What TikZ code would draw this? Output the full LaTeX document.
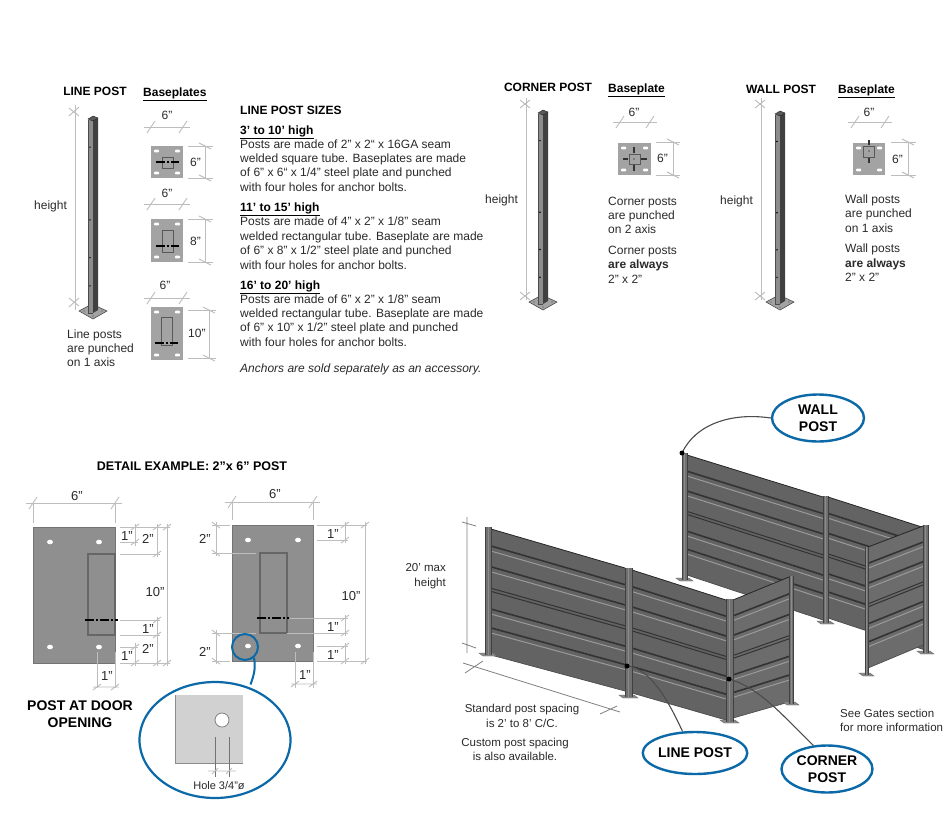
\documentclass[tikz,border=0pt]{standalone}
\usepackage{fontspec}
\setmainfont{Liberation Sans}
\usetikzlibrary{calc,shapes.geometric}
\definecolor{txtc}{HTML}{2A2A2A}
\definecolor{dimc}{HTML}{BDBDBD}
\definecolor{bubc}{HTML}{0B69A8}
\definecolor{platec}{HTML}{A3A3A3}
\definecolor{detailc}{HTML}{8F8F8F}
\definecolor{panelc}{HTML}{636363}
\definecolor{sidec}{HTML}{6C6C6C}
\definecolor{bandd}{HTML}{333333}
\definecolor{bandl}{HTML}{9A9A9A}
\definecolor{postc}{HTML}{707070}
\definecolor{footc}{HTML}{8A8A8A}
\newcounter{tc}
\newcommand{\lb}[3][]{\stepcounter{tc}\node[lbl,#1] (t\arabic{tc}) at (#2) {#3};}
\newcommand{\lc}[3][]{\stepcounter{tc}\node[lbl,anchor=base,#1] (t\arabic{tc}) at (#2) {#3};}
\newcommand{\lr}[3][]{\stepcounter{tc}\node[lbl,anchor=base east,#1] (t\arabic{tc}) at (#2) {#3};}
% tick marks
\newcommand{\hd}[3]{\draw[dimln] (#1-7,#3)--(#2+7,#3);
  \draw[dimln] (#1-4,#3+6)--(#1+4,#3-6) (#2-4,#3+6)--(#2+4,#3-6);}
\newcommand{\vd}[3]{\draw[dimln] (#1,#2)--(#1,#3);
  \draw[dimln] (#1-6,#2-3)--(#1+6,#2+3) (#1-6,#3-3)--(#1+6,#3+3);}
% baseplate with slots
\newcommand{\bplate}[4]{\fill[platec] (#1,#2) rectangle (#3,#4);
  \foreach \sx/\sy in {#1+5.5/#2+5,#3-5.5/#2+5,#1+5.5/#4-5,#3-5.5/#4-5}
    {\fill[white,rounded corners=.8pt] (\sx-2.5,\sy-1.3) rectangle (\sx+2.5,\sy+1.3);}}
% isometric post
\newcommand{\isopost}[3]{%
  \fill[platec,draw=black!70,line width=.6pt] (#1-14,#3-1)--(#1-1,#3-8)--(#1+14,#3-1)--(#1,#3+7)--cycle;
  \foreach \hx/\hy in {-9/-1,9/-1,0/-5,0/4}{\fill[black!70] (#1+\hx,#3+\hy) circle (.7);}
  \fill[black!45] (#1-5,#2+2) rectangle (#1,#3+1);
  \fill[black!75] (#1,#2+2) -- (#1+5,#2) -- (#1+5,#3-2) -- (#1,#3+1) -- cycle;
  \draw[black!70,line width=.5pt] (#1-5,#2+2)--(#1-5,#3+1)--(#1,#3+1);
  \fill[black!65,draw=black!85,line width=.4pt] (#1-5,#2+1)--(#1,#2-2)--(#1+5,#2)--(#1,#2+3)--cycle;
  \foreach \f in {.15,.525,.72,.865}{\fill[black] ($(#1-3,#2)!\f!(#1-3,#3)$) circle (.8);}}
% fence panel: corners TL TR BL BR
\newcommand{\panel}[9]{\coordinate (pa) at (#2,#3);\coordinate (pb) at (#4,#5);
  \coordinate (pc) at (#6,#7);\coordinate (pd) at (#8,#9);
  \fill[#1] (pa)--(pb)--(pd)--(pc)--cycle;
  \foreach \t in {.135,.30,.635,.785}{
    \pgfmathsetmacro{\tl}{\t+.04}
    \draw[bandd,line width=1.6pt] ($(pa)!\t!(pc)$)--($(pb)!\t!(pd)$);
    \draw[bandl,line width=1pt] ($(pa)!\tl!(pc)$)--($(pb)!\tl!(pd)$);}
  \draw[bandd,line width=1pt] ($(pa)!.47!(pc)$)--($(pb)!.47!(pd)$);
  \draw[bandd,line width=1pt] ($(pa)!.495!(pc)$)--($(pb)!.495!(pd)$);
  \draw[black!85,line width=.8pt] (pa)--(pb);\draw[black!70,line width=.7pt] (pc)--(pd);}
\newcommand{\fpost}[4]{\fill[footc,draw=black!60,line width=.4pt] (#1-6,#4-2)--(#2+2,#4-2)--(#2+6,#4+1)--(#1-2,#4+1)--cycle;
  \fill[postc] (#1,#3) rectangle (#2,#4);
  \draw[black!75,line width=.6pt] (#1,#3)--(#1,#4) (#2,#3)--(#2,#4);
  \draw[black!45,line width=.5pt] ({(#1+#2)/2},#3)--({(#1+#2)/2},#4);}
\tikzset{
  lbl/.style={inner sep=0pt,anchor=base west,text=txtc,font=\fontsize{12}{14}\selectfont},
  hdr/.style={font=\fontsize{12}{14}\selectfont\bfseries,text=black},
  dimln/.style={dimc,line width=.9pt},
  bubble/.style={ellipse,draw=bubc,line width=2.4pt,fill=white,inner sep=0pt,align=center,text=black,font=\fontsize{14}{17}\selectfont\bfseries},
  lead/.style={black!70,line width=1.1pt},
  holeln/.style={black!55,line width=.9pt},
  insetln/.style={black!65,line width=.9pt},
  dashl/.style={black,line width=1.1pt,dash pattern=on 9pt off 2pt on 2pt off 2pt}
}
\begin{document}
\begin{tikzpicture}[x=1pt,y=-1pt]
\useasboundingbox (0,0) rectangle (950,833);
\fill[white] (0,0) rectangle (950,833);
% ---- LINE POST
\lc[hdr]{95,95}{LINE POST}
\lb[hdr]{143,96}{\underline{Baseplates}}
\isopost{93}{118}{312}
\draw[dimln] (75,105)--(75,310);
\draw[dimln] (69,108)--(79,116) (69,116)--(79,107) (69,298)--(79,306) (69,307)--(79,298);
\lb{34,209}{height}
\lb{67,338}{Line posts}\lb{67,352}{are punched}\lb{67,366}{on 1 axis}
% baseplate 1
\hd{151}{183}{127}\lc{167,119}{6"}
\bplate{151}{146}{183}{178}
\draw[insetln] (162,157) rectangle (173,168);
\draw[dashl] (156,162)--(179,162);
\draw[dimln] (188,146)--(213,146) (188,178)--(213,178);
\vd{205}{146}{178}\lb{190,166}{6"}
% baseplate 2
\hd{151}{183}{204}\lc{167,197}{6"}
\bplate{151}{219}{183}{262}
\draw[insetln] (162,230) rectangle (173,252);
\draw[dashl] (156,246)--(179,246);
\draw[dimln] (188,219)--(213,219) (188,262)--(213,262);
\vd{205}{219}{262}\lb{190,245}{8"}
% baseplate 3
\hd{151}{183}{298}\lc{165,289}{6"}
\bplate{151}{307}{183}{360}
\draw[insetln] (161,317) rectangle (172,345);
\draw[dashl] (155,343)--(178,343);
\draw[dimln] (188,310)--(216,310) (188,358)--(216,358);
\vd{209}{310}{358}\lb{188,337}{10"}
% sizes text
\lb[hdr]{240,114}{LINE POST SIZES}
\lb[hdr]{240,134}{\underline{3’ to 10’ high}}
\lb{240,148}{Posts are made of 2” x 2“ x 16GA seam}
\lb{240,162}{welded square tube. Baseplates are made}
\lb{240,176}{of 6” x 6“ x 1/4” steel plate and punched}
\lb{240,191}{with four holes for anchor bolts.}
\lb[hdr]{240,211}{\underline{11’ to 15’ high}}
\lb{240,225}{Posts are made of 4” x 2” x 1/8” seam}
\lb{240,240}{welded rectangular tube. Baseplate are made}
\lb{240,254}{of 6” x 8” x 1/2” steel plate and punched}
\lb{240,269}{with four holes for anchor bolts.}
\lb[hdr]{240,289}{\underline{16’ to 20’ high}}
\lb{240,303}{Posts are made of 6” x 2” x 1/8” seam}
\lb{240,317}{welded rectangular tube. Baseplate are made}
\lb{240,331}{of 6” x 10” x 1/2” steel plate and punched}
\lb{240,346}{with four holes for anchor bolts.}
\lb[font=\fontsize{12}{14}\selectfont\itshape]{240,372}{Anchors are sold separately as an accessory.}
% ---- CORNER POST
\lc[hdr]{548,91}{CORNER POST}
\lb[hdr]{608,92}{\underline{Baseplate}}
\isopost{543}{112}{303}
\draw[dimln] (526,98)--(526,300);
\draw[dimln] (520,100)--(530,108) (520,108)--(530,100) (520,292)--(530,300) (520,300)--(530,292);
\lb{485,203}{height}
\hd{620}{650}{122}\lc{634,116}{6"}
\bplate{618}{143}{651}{175}
\draw[insetln] (629,154) rectangle (640,164);
\draw[bandd,line width=1.3pt] (623,159)--(628,159) (641,159)--(647,159) (634,147)--(634,153) (634,165)--(634,171);
\fill[black] (634,159) circle (.7);
\draw[dimln] (656,142)--(680,142) (656,175)--(680,175);
\vd{673}{142}{175}\lb{657,162}{6"}
\lb{608,205}{Corner posts}\lb{608,219}{are punched}\lb{608,233}{on 2 axis}
\lb{608,254}{Corner posts}\lb[font=\fontsize{12}{14}\selectfont\bfseries]{608,268}{are always}\lb{608,283}{2” x 2”}
% ---- WALL POST
\lc[hdr]{781,93}{WALL POST}
\lb[hdr]{838,93}{\underline{Baseplate}}
\isopost{780}{113}{303}
\draw[dimln] (761,98)--(761,300);
\draw[dimln] (755,100)--(765,108) (755,108)--(765,100) (755,292)--(765,300) (755,300)--(765,292);
\lb{720,204}{height}
\hd{855}{885}{122}\lc{869,116}{6"}
\bplate{853}{143}{885}{175}
\draw[insetln] (863,146) rectangle (874,157);
\draw[bandd,line width=1.3pt] (869,140)--(869,145) (869,158)--(869,163);
\fill[black] (869,151) circle (.7);
\draw[dimln] (891,142)--(916,142) (891,175)--(916,175);
\vd{908}{142}{175}\lb{892,163}{6"}
\lb{845,203}{Wall posts}\lb{845,217}{are punched}\lb{845,232}{on 1 axis}
\lb{845,252}{Wall posts}\lb[font=\fontsize{12}{14}\selectfont\bfseries]{845,267}{are always}\lb{845,281}{2” x 2”}
% ---- DETAIL
\lc[font=\fontsize{12.5}{15}\selectfont\bfseries,text=black]{192,470}{DETAIL EXAMPLE: 2”x 6” POST}
% plate A
\fill[detailc] (33,527) rectangle (115,663);
\draw[black!55,line width=.8pt] (33,527) rectangle (115,663);
\foreach \hx/\hy in {50/542,99/542,50/647,99/647}{\fill[white] (\hx,\hy) ellipse (3 and 2.3);}
\draw[black!60,line width=1.1pt] (88,554) rectangle (115,635);
\draw[dashl] (85,620)--(118,620);
\hd{33}{115}{503}\draw[dimln] (33,503)--(33,523) (115,503)--(115,523);
\lc[font=\fontsize{13}{15}\selectfont]{77,500}{6"}
\draw[dimln] (120,527)--(170,527) (120,542)--(138,542) (120,554)--(160,554) (120,620)--(160,620) (120,635)--(160,635) (120,647)--(138,647) (120,663)--(170,663);
\draw[dimln] (135,524)--(135,546) (135,643)--(135,666) (157,524)--(157,557) (157,617)--(157,666) (167,524)--(167,666);
\foreach \ty in {527,542,647,663}{\draw[dimln] (131,\ty+3)--(139,\ty-3);}
\foreach \ty in {527,554,620,635,663}{\draw[dimln] (153,\ty+3)--(161,\ty-3);}
\foreach \ty in {527,663}{\draw[dimln] (163,\ty+3)--(171,\ty-3);}
\lc[font=\fontsize{13}{15}\selectfont]{127,540}{1"}\lc[font=\fontsize{13}{15}\selectfont]{148,543}{2"}
\lc[font=\fontsize{13}{15}\selectfont]{155,596}{10"}\lc[font=\fontsize{13}{15}\selectfont]{148,633}{1"}
\lc[font=\fontsize{13}{15}\selectfont]{148,653}{2"}\lc[font=\fontsize{13}{15}\selectfont]{127,660}{1"}
\draw[dimln] (97,652)--(97,688) (115,652)--(115,688);
\draw[dimln] (93,687)--(119,687) (93,690)--(101,684) (111,690)--(119,684);
\lc[font=\fontsize{13}{15}\selectfont]{107,680}{1"}
% plate B
\fill[detailc] (232,525) rectangle (313,661);
\draw[black!55,line width=.8pt] (232,525) rectangle (313,661);
\foreach \hx/\hy in {248/540,298/540,248/646,298/646}{\fill[white] (\hx,\hy) ellipse (3 and 2.3);}
\draw[black!60,line width=1.1pt] (260,553) rectangle (287,633);
\draw[dashl] (257,618)--(289,618);
\hd{232}{313}{502}\draw[dimln] (232,502)--(232,520) (313,502)--(313,520);
\lc[font=\fontsize{13}{15}\selectfont]{275,498}{6"}
\draw[dimln] (212,525)--(230,525) (212,553)--(256,553) (212,633)--(256,633) (212,661)--(230,661);
\draw[dimln] (216,522)--(216,556) (216,630)--(216,664);
\foreach \ty in {525,553,633,661}{\draw[dimln] (212,\ty-3)--(220,\ty+3);}
\lc[font=\fontsize{13}{15}\selectfont]{205,543}{2"}\lc[font=\fontsize{13}{15}\selectfont]{205,656}{2"}
\draw[dimln] (317,525)--(367,525) (317,540)--(348,540) (290,618)--(348,618) (287,633)--(348,633) (317,646)--(348,646) (317,661)--(367,661);
\draw[dimln] (345,522)--(345,543) (345,615)--(345,636) (345,643)--(345,664) (365,522)--(365,664);
\foreach \ty in {525,540,618,633,646,661}{\draw[dimln] (341,\ty+3)--(349,\ty-3);}
\foreach \ty in {525,661}{\draw[dimln] (361,\ty+3)--(369,\ty-3);}
\lc[font=\fontsize{13}{15}\selectfont]{333,538}{1"}\lc[font=\fontsize{13}{15}\selectfont]{351,600}{10"}
\lc[font=\fontsize{13}{15}\selectfont]{333,631}{1"}\lc[font=\fontsize{13}{15}\selectfont]{333,659}{1"}
\draw[dimln] (295,652)--(295,688) (313,652)--(313,688);
\draw[dimln] (291,684)--(317,684) (291,687)--(299,681) (309,687)--(317,681);
\lc[font=\fontsize{13}{15}\selectfont]{305,679}{1"}
\lc[font=\fontsize{14}{17}\selectfont\bfseries,text=black]{80,710}{POST AT DOOR}
\lc[font=\fontsize{14}{17}\selectfont\bfseries,text=black]{80,727}{OPENING}
% hole bubble
\node[ellipse,draw=bubc,line width=2pt,minimum width=26pt,minimum height=26pt,inner sep=0pt] (holering) at (245,647) {};
\node[ellipse,draw=bubc,line width=2.2pt,fill=white,minimum width=151pt,minimum height=116pt,inner sep=0pt] (holebub) at (215,740) {};
\draw[bubc,line width=2pt] (holering.-50) to[out=-80,in=70] (250.5,684.5);
\fill[black!18] (175,695) rectangle (243,763);
\draw[black!45,line width=.8pt] (175,695)--(175,763)--(243,763);
\node[circle,draw=black!50,line width=.8pt,fill=white,minimum size=14pt,inner sep=0pt] (holec) at (222,720) {};
\draw[holeln] (215,737)--(215,777) (229,737)--(229,777);
\draw[dimln] (208,771)--(236,771) (212,774)--(218,768) (226,774)--(232,768);
\lc[font=\fontsize{11}{13}\selectfont]{219,789}{Hole 3/4"ø}
% ---- FENCE back
\panel{panelc}{687}{455}{823}{497}{687}{575}{823}{620}
\panel{panelc}{828}{497}{925}{528}{828}{618}{925}{650}
\fpost{682}{687}{453}{580}
\fpost{823}{828}{496}{623}
\panel{sidec}{868}{547}{923}{526}{868}{668}{923}{645}
\fpost{923}{928}{525}{653}
\fpost{865}{868}{547}{675}
% ---- FENCE front
\panel{panelc}{491}{529}{625}{568}{491}{655}{625}{691}
\panel{panelc}{632}{570}{726}{600}{632}{693}{726}{720}
\panel{sidec}{733}{600}{789}{577}{733}{718}{789}{702}
\fpost{485}{491}{527}{655}
\fpost{625}{632}{568}{697}
\fpost{726}{733}{599}{722}
\fpost{789}{793}{576}{704}
% height and spacing dims
\draw[black!50,line width=.8pt] (467,517)--(467,653) (462,522)--(476,526) (462,643)--(476,648);
\draw[black!50,line width=.8pt] (463,663)--(620,712) (465,673)--(483,661) (600,714)--(617,706);
\lr[font=\fontsize{11.5}{14}\selectfont]{446,571}{20’ max}
\lr[font=\fontsize{11.5}{14}\selectfont]{446,586}{height}
\lc[font=\fontsize{11.5}{14}\selectfont]{522,712}{Standard post spacing}
\lc[font=\fontsize{11.5}{14}\selectfont]{522,727}{is 2’ to 8’ C/C.}
\lc[font=\fontsize{11.5}{14}\selectfont]{515,746}{Custom post spacing}
\lc[font=\fontsize{11.5}{14}\selectfont]{515,760}{is also available.}
\lb[font=\fontsize{11.5}{14}\selectfont]{840,717}{See Gates section}
\lb[font=\fontsize{11.5}{14}\selectfont]{840,731}{for more information}
% callouts
\node[bubble,minimum width=92pt,minimum height=47pt] (wallbub) at (818,418) {WALL\\POST};
\node[bubble,minimum width=83pt,minimum height=42pt] (linebub) at (695,753) {LINE POST};
\node[bubble,minimum width=91pt,minimum height=47pt] (cornerbub) at (827,769) {CORNER\\POST};
\coordinate (walldot) at (682,453);
\coordinate (linedot) at (627,666);
\coordinate (cornerdot) at (729,679);
\draw[lead] (walldot) .. controls (695,425) and (730,412) .. (wallbub.west);
\draw[lead] (linedot) .. controls (650,668) and (668,700) .. (linebub.120);
\draw[lead] (cornerdot) .. controls (760,688) and (782,715) .. (cornerbub.120);
\fill[black] (walldot) circle (2.5) (linedot) circle (2.5) (cornerdot) circle (2.5);
\end{tikzpicture}
\end{document}
